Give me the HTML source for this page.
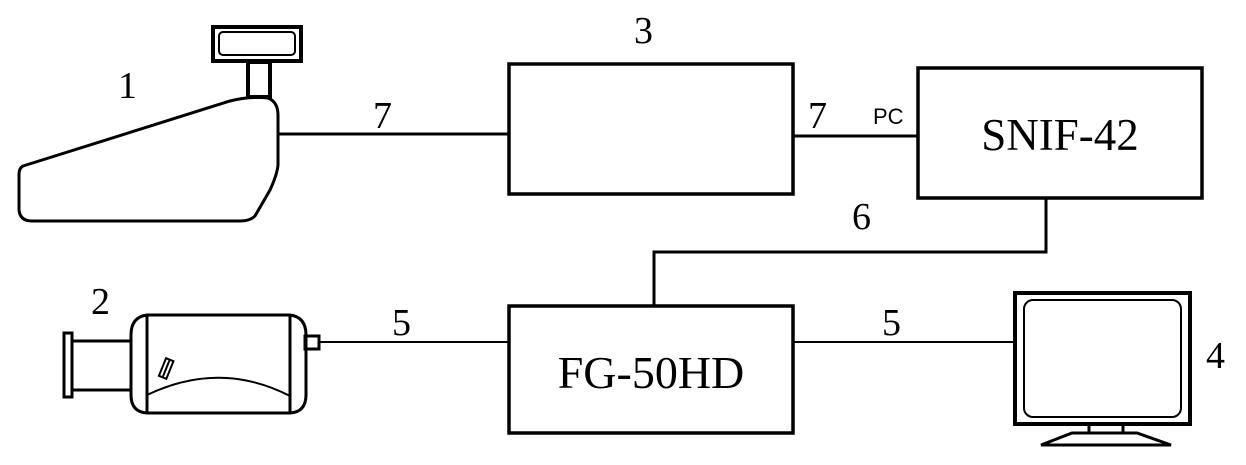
<!DOCTYPE html>
<html><head><style>html,body{margin:0;padding:0;background:#fff}</style></head><body>
<svg width="1246" height="465" viewBox="0 0 1246 465" xmlns="http://www.w3.org/2000/svg" style="display:block">
<g fill="none" stroke="#000" stroke-width="4">
<rect x="213" y="27" width="88" height="34" stroke-width="4"/>
<rect x="219" y="32" width="76" height="23" rx="4" stroke-width="2"/>
<rect x="248" y="62" width="22" height="35" stroke-width="4"/>
<path d="M23,166 L230,101 Q248,96 268,98 Q278,102 278,115 L278,165 Q277,175 270,190 L255,216 Q250,221 240,221 L32,221 Q20,221 19,210 L19,175 Q19,168 23,166 Z" stroke-width="3"/>
<path d="M279,134 H508" stroke-width="3"/>
<rect x="509" y="64" width="284" height="130" stroke-width="3.5"/>
<path d="M793,136 H917" stroke-width="3"/>
<rect x="918" y="68" width="284" height="130" stroke-width="3.5"/>
<path d="M1046,198 V252 H654 V306" stroke-width="3"/>
<rect x="509" y="306" width="284" height="127" stroke-width="3.5"/>
<path d="M320,342 H508" stroke-width="2"/>
<path d="M793,342 H1015" stroke-width="2"/>
<rect x="64" y="333" width="8" height="64" stroke-width="3"/>
<path d="M72,341 H130 M72,390 H130" stroke-width="3"/>
<path d="M147,315 H290 Q306,317 306,335 V395 Q306,412 290,413 H147 Q131,412 131,395 V335 Q131,317 147,315 Z" stroke-width="3"/>
<path d="M147,315 V413 M290,315 V413" stroke-width="3"/>
<path d="M147,395 Q220,360 290,396" stroke-width="2"/>
<rect x="305" y="336" width="14" height="13" stroke-width="3"/>
<g transform="rotate(22 166 369)" stroke-width="2"><rect x="162" y="359" width="8" height="19"/><path d="M166,360 V377"/></g>
<rect x="1015" y="293" width="175" height="131" stroke-width="4"/>
<rect x="1024" y="300" width="157" height="117" rx="9" stroke-width="2"/>
<path d="M1089,424 V433 M1123,424 V433" stroke-width="3"/>
<path d="M1072,433 H1137 L1171,445 H1041 Z" stroke-width="3"/>
</g>
<g font-family="'Liberation Serif',serif" fill="#000">
<text x="118" y="98" font-size="38">1</text>
<text x="91" y="314" font-size="38">2</text>
<text x="634" y="43" font-size="38">3</text>
<text x="1206" y="368" font-size="38">4</text>
<text x="373" y="128" font-size="38">7</text>
<text x="808" y="128" font-size="38">7</text>
<text x="852" y="229" font-size="38">6</text>
<text x="392" y="335" font-size="38">5</text>
<text x="882" y="335" font-size="38">5</text>
<text x="1060" y="150" font-size="45" text-anchor="middle">SNIF-42</text>
<text x="651" y="388" font-size="46" text-anchor="middle">FG-50HD</text>
</g>
<text x="873" y="124" font-family="'Liberation Sans',sans-serif" font-size="22">PC</text>
</svg>
</body></html>
